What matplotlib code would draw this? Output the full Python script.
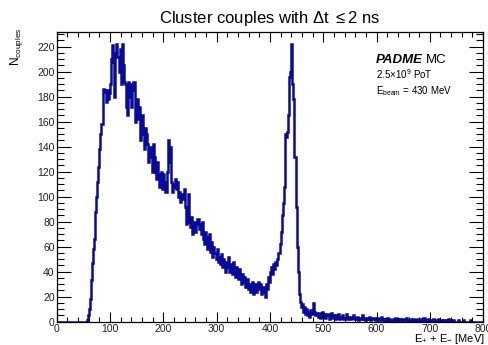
import numpy as np
import matplotlib
matplotlib.use("Agg")
import matplotlib.pyplot as plt
from matplotlib.ticker import MultipleLocator

plt.rcParams['font.family'] = ['Liberation Sans', 'DejaVu Sans']
plt.rcParams['mathtext.fontset'] = 'custom'
plt.rcParams['mathtext.rm'] = 'Liberation Sans'
plt.rcParams['mathtext.it'] = 'Liberation Sans:italic'
plt.rcParams['mathtext.bf'] = 'Liberation Sans:bold'

# Histogram: 2 MeV bins from 0 to 800 MeV
bin_width = 2
counts = [0] * 28 + [                                 # 0-56
    1, 5, 10, 18, 33, 47, 58, 66, 88, 100,           # 56-76
    112, 124, 138, 150, 158, 186, 185, 184, 176, 185,  # 76-96
    178, 183, 190, 210, 221, 208, 180, 215, 222, 212,  # 96-116
    200, 218, 190, 222, 205, 192, 190, 172, 165, 192,  # 116-136
    180, 190, 172, 185, 192, 160, 168, 178, 162, 172,  # 136-156
    145, 158, 165, 150, 138, 155, 150, 142, 128, 140,  # 156-176
    132, 120, 142, 132, 120, 114, 128, 118, 108, 115,  # 176-196
    120, 106, 118, 112, 104, 120, 145, 128, 140, 112,  # 196-216
    104, 108, 110, 114, 106, 112, 100, 104, 96, 102,   # 216-236
    98, 106, 92, 78, 86, 102, 80, 76, 84, 70,          # 236-256
    75, 80, 72, 78, 82, 74, 78, 70, 80, 66,            # 256-276
    62, 72, 68, 58, 62, 70, 56, 64, 52, 60,            # 276-296
    55, 50, 58, 48, 52, 46, 54, 44, 50, 46,            # 296-316
    40, 48, 44, 52, 40, 46, 38, 48, 42, 36,            # 316-336
    44, 40, 34, 42, 36, 30, 38, 32, 36, 28,            # 336-356
    34, 26, 30, 24, 28, 32, 22, 26, 30, 24,            # 356-376
    28, 32, 26, 30, 22, 28, 24, 20, 30, 26,            # 376-396
    36, 32, 40, 44, 38, 46, 42, 48, 45, 50,            # 396-416
    55, 62, 72, 85, 95, 108, 150, 148, 152, 165,       # 416-436
    196, 200, 222, 190, 178, 132, 92, 60, 40, 22,      # 436-456
    16, 12, 14, 8, 12, 6, 10, 5, 8, 4,                 # 456-476
    9, 6, 15, 8, 5, 7,                                 # 476-488
    6, 4, 7, 3, 5, 8, 4, 6, 3, 5, 6, 2, 4, 7, 3, 5,    # 488-520
    4, 2, 5, 3, 6, 2, 4, 3, 5, 2, 3, 6, 2, 4, 3, 2,    # 520-552
    4, 3, 5, 2, 3, 2, 4, 1, 3, 2, 5, 2, 3, 1, 2, 3,    # 552-584
    2, 4, 1, 3, 2, 2, 3, 1,                            # 584-600
    3, 2, 1, 2, 4, 1, 2, 0, 2, 1, 3, 1, 2, 0, 1, 2,    # 600-632
    1, 3, 1, 0, 2, 1, 2, 1, 0, 2, 1, 1, 3, 0, 1, 2,    # 632-664
    1, 0, 2, 1, 0, 1, 2, 0, 1, 2, 0, 1, 3, 1, 0, 1,    # 664-696
    2, 0, 1, 1, 0, 2, 0, 1, 1, 0, 2, 0, 1, 0, 1, 0,    # 696-728
    0, 1, 0, 2, 0, 1,                                  # 728-740
    0, 0, 1, 0, 0, 0, 1, 0, 0, 0,                      # 740-760
    0, 1, 0, 0, 0, 0, 0, 0, 1, 0,                      # 760-780
    0, 0, 0, 0, 0, 0, 0, 0, 0, 0,                      # 780-800
]
counts = np.array(counts, dtype=float)
bin_edges = np.arange(len(counts) + 1) * bin_width

title = r"Cluster couples with $\Delta$t $\leq$2 ns"
xlabel = r"E$_{+}$ + E$_{-}$ [MeV]"
ylabel = r"N$_{\mathrm{couples}}$"

fig = plt.figure(figsize=(4.89, 3.45), dpi=100)
ax = fig.add_axes([0.116, 0.0675, 0.872, 0.8405])

ax.stairs(counts, bin_edges, color='#0a0a9a', lw=1.8)

ax.set_xlim(0, 800)
ax.set_ylim(0, 232)

ax.xaxis.set_major_locator(MultipleLocator(100))
ax.xaxis.set_minor_locator(MultipleLocator(20))
ax.yaxis.set_major_locator(MultipleLocator(20))
ax.yaxis.set_minor_locator(MultipleLocator(5))
ax.tick_params(which='both', direction='in', top=True, right=True,
               labelsize=7.5, labelcolor='#222222', width=0.8, pad=1.5)
ax.tick_params(axis='x', which='major', length=7)
ax.tick_params(axis='x', which='minor', length=3.5)
ax.tick_params(axis='y', which='major', length=10)
ax.tick_params(axis='y', which='minor', length=5)
for s in ax.spines.values():
    s.set_linewidth(0.9)

fig.text(0.552, 0.945, title, ha='center', va='center', fontsize=12)
fig.text(0.992, -0.004, xlabel, ha='right', va='bottom', fontsize=8)
fig.text(0.034, 0.92, ylabel, ha='center', va='top', rotation=90, fontsize=8.5)

t = ax.text(599, 207, "PADME", fontsize=9.5, fontweight='bold', style='italic',
            va='baseline')
ax.annotate("MC", xy=(1, 0), xycoords=t, xytext=(2, 0),
            textcoords='offset points', fontsize=9.5, va='bottom', ha='left')
ax.text(599, 194, r"2.5$\times$10$^{9}$ PoT", fontsize=7, va='baseline')
ax.text(599, 182, r"E$_{\mathrm{beam}}$ = 430 MeV", fontsize=7, va='baseline')

fig.savefig("out.png", dpi=100)
